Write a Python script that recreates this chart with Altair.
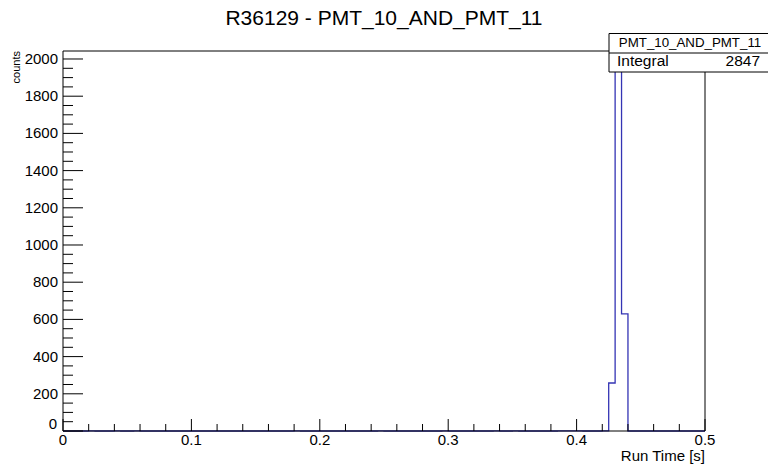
import altair as alt
import pandas as pd

# ---- data ----
bin_width = 0.005
n_bins = 100
bin_low = [0.020, 0.040, 0.055, 0.180, 0.245, 0.295, 0.335, 0.350, 0.385,
           0.390, 0.395, 0.400, 0.420, 0.425, 0.430, 0.435]
bin_counts = [1, 1, 1, 1, 1, 1, 1, 1, 1, 1, 1, 1, 1, 258, 1946, 630]

x_major = [0.0, 0.1, 0.2, 0.3, 0.4, 0.5]
x_minor = [0.02, 0.04, 0.06, 0.08, 0.12, 0.14, 0.16, 0.18, 0.22, 0.24, 0.26, 0.28,
           0.32, 0.34, 0.36, 0.38, 0.42, 0.44, 0.46, 0.48]
y_major = [0, 200, 400, 600, 800, 1000, 1200, 1400, 1600, 1800, 2000]
y_minor = [50, 100, 150, 250, 300, 350, 450, 500, 550, 650, 700, 750, 850, 900, 950,
           1050, 1100, 1150, 1250, 1300, 1350, 1450, 1500, 1550, 1650, 1700, 1750,
           1850, 1900, 1950]

title_text = "R36129 - PMT_10_AND_PMT_11"
hist_name = "PMT_10_AND_PMT_11"
integral_value = "2847"
x_title = "Run Time [s]"
y_title = "counts"

x_max = 0.5
y_max = 2043

# ---- build histogram outline (step line over bin edges) ----
counts = [0] * n_bins
for lo, c in zip(bin_low, bin_counts):
    counts[int(round(lo / bin_width))] = c
edges = [i * bin_width for i in range(n_bins)] + [x_max]
vals = counts + [counts[-1]]
hist_df = pd.DataFrame({"x": edges, "y": vals})

W, H = 642, 380
FONT = "Liberation Sans"
BLUE = "#3434b4"

xs = alt.Scale(domain=[0, x_max], nice=False, zero=False)
ys = alt.Scale(domain=[0, y_max], nice=False)

hist = alt.Chart(hist_df).mark_line(
    interpolate="step-after", color=BLUE, strokeWidth=1.3
).encode(
    x=alt.X("x:Q", scale=xs, axis=None),
    y=alt.Y("y:Q", scale=ys, axis=None),
)

xmaj = alt.Chart(pd.DataFrame({"v": x_major})).mark_rule(color="black", strokeWidth=1).encode(
    x=alt.X("v:Q", scale=xs, axis=None), y=alt.value(H), y2=alt.value(H - 12))
xmin = alt.Chart(pd.DataFrame({"v": x_minor})).mark_rule(color="black", strokeWidth=1).encode(
    x=alt.X("v:Q", scale=xs, axis=None), y=alt.value(H), y2=alt.value(H - 7))
ymaj = alt.Chart(pd.DataFrame({"v": y_major})).mark_rule(color="black", strokeWidth=1).encode(
    y=alt.Y("v:Q", scale=ys, axis=None), x=alt.value(0), x2=alt.value(20))
ymin = alt.Chart(pd.DataFrame({"v": y_minor})).mark_rule(color="black", strokeWidth=1).encode(
    y=alt.Y("v:Q", scale=ys, axis=None), x=alt.value(0), x2=alt.value(10))

xlab = alt.Chart(pd.DataFrame({"v": x_major})).transform_calculate(
    lab="format(datum.v, '~g')").mark_text(
    font=FONT, fontSize=15, align="center", baseline="alphabetic", color="black").encode(
    x=alt.X("v:Q", scale=xs, axis=None), y=alt.value(H + 14), text="lab:N")

ylab_base = alt.Chart(pd.DataFrame({"v": y_major})).transform_calculate(
    lab="format(datum.v, 'd')")
ylab = ylab_base.transform_filter("datum.v > 0").mark_text(
    font=FONT, fontSize=15, align="right", baseline="middle", color="black").encode(
    y=alt.Y("v:Q", scale=ys, axis=None), x=alt.value(-5), text="lab:N")
ylab0 = ylab_base.transform_filter("datum.v == 0").mark_text(
    font=FONT, fontSize=15, align="right", baseline="bottom", color="black", dy=1).encode(
    y=alt.Y("v:Q", scale=ys, axis=None), x=alt.value(-6), text="lab:N")

frame_df = pd.DataFrame({"k": [0]})
left = alt.Chart(frame_df).mark_rule(color="black", strokeWidth=1).encode(
    x=alt.value(0), y=alt.value(0), y2=alt.value(H))
right = alt.Chart(frame_df).mark_rule(color="black", strokeWidth=1).encode(
    x=alt.value(W), y=alt.value(0), y2=alt.value(H))
top = alt.Chart(frame_df).mark_rule(color="black", strokeWidth=1).encode(
    y=alt.value(0), x=alt.value(0), x2=alt.value(W))
bottom = alt.Chart(frame_df).mark_rule(color="black", strokeWidth=1).encode(
    y=alt.value(H), x=alt.value(0), x2=alt.value(W))

# stats box
box = alt.Chart(frame_df).mark_rect(fill="white", stroke="black", strokeWidth=1).encode(
    x=alt.value(546), x2=alt.value(712), y=alt.value(-17.5), y2=alt.value(21))
box_div = alt.Chart(frame_df).mark_rule(color="black", strokeWidth=1).encode(
    y=alt.value(2), x=alt.value(546), x2=alt.value(712))
box_name = alt.Chart(pd.DataFrame({"t": [hist_name]})).mark_text(
    font=FONT, fontSize=13.3, align="center", baseline="alphabetic", color="black").encode(
    text="t:N", x=alt.value(627), y=alt.value(-4))
box_lab = alt.Chart(pd.DataFrame({"t": ["Integral"]})).mark_text(
    font=FONT, fontSize=15.5, align="left", baseline="alphabetic", color="black").encode(
    text="t:N", x=alt.value(554), y=alt.value(14.5))
box_val = alt.Chart(pd.DataFrame({"t": [integral_value]})).mark_text(
    font=FONT, fontSize=15.5, align="right", baseline="alphabetic", color="black").encode(
    text="t:N", x=alt.value(697), y=alt.value(14.5))

title = alt.Chart(pd.DataFrame({"t": [title_text]})).mark_text(
    font=FONT, fontSize=21, align="center", baseline="alphabetic", color="black").encode(
    text="t:N", x=alt.value(W / 2), y=alt.value(-26))
xt = alt.Chart(pd.DataFrame({"t": [x_title]})).mark_text(
    font=FONT, fontSize=15, align="right", baseline="alphabetic", color="black").encode(
    text="t:N", x=alt.value(W), y=alt.value(H + 30))
yt = alt.Chart(pd.DataFrame({"t": [y_title]})).mark_text(
    font=FONT, fontSize=11, align="right", baseline="middle", angle=270, color="black").encode(
    text="t:N", x=alt.value(-46), y=alt.value(0))

chart = alt.layer(
    hist, xmaj, xmin, ymaj, ymin, xlab, ylab, ylab0, left, right, top, bottom,
    box, box_div, box_name, box_lab, box_val, title, xt, yt
).properties(
    width=W, height=H,
    padding={"left": 63, "top": 51, "right": 63, "bottom": 35},
    autosize=alt.AutoSizeParams(type="none"),
    background="white",
).configure_view(stroke=None)

chart.save("out.html", embed_options={"renderer": "svg", "actions": False})
